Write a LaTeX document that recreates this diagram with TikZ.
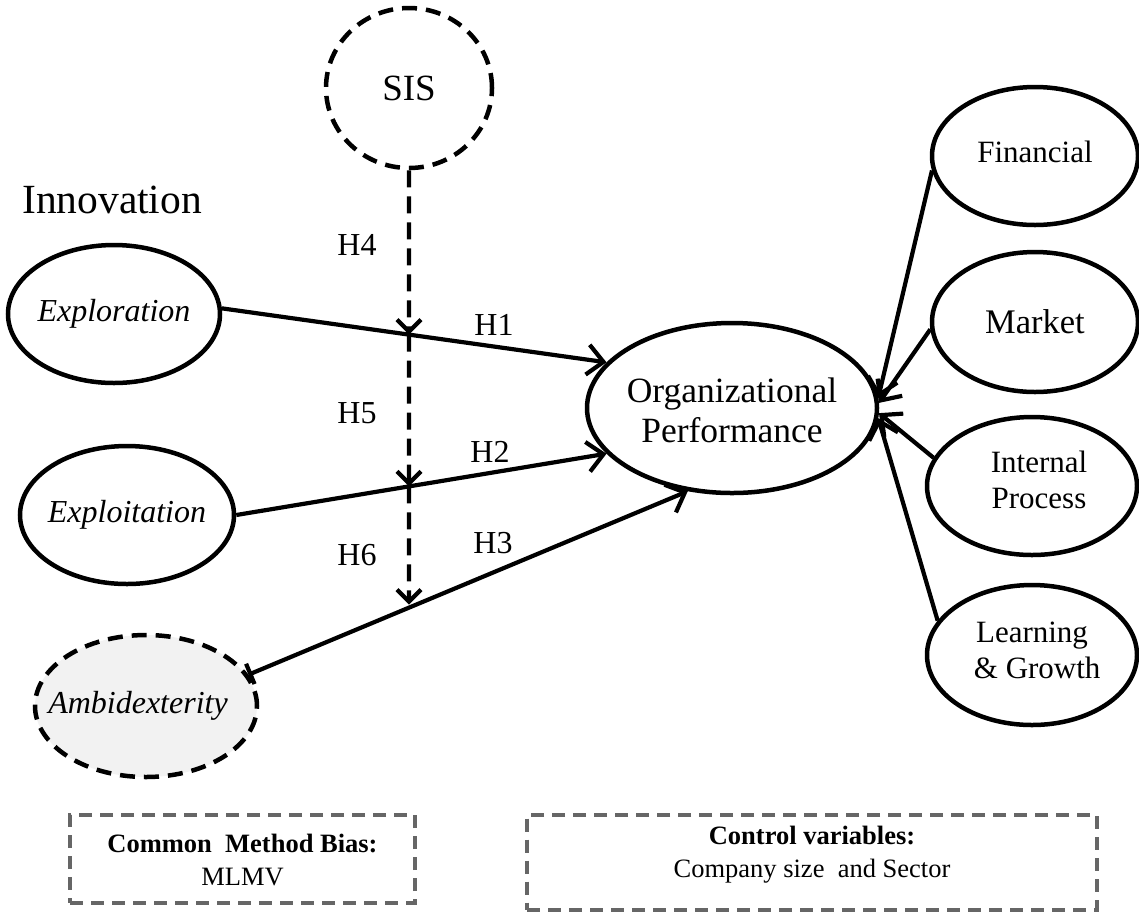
\documentclass[tikz,border=0pt]{standalone}
\usepackage{fontspec}
\setmainfont{Liberation Serif}
\usetikzlibrary{arrows.meta,shapes.geometric,intersections}
\tikzset{
  ell/.style={draw=black, line width=4.5pt, ellipse, inner sep=0pt, minimum width=212pt, minimum height=138pt},
  dashell/.style={ell, dash pattern=on 15pt off 9pt},
  txt/.style={inner sep=0pt, align=center},
  lbl/.style={inner sep=0pt, font=\fontsize{32}{36}\selectfont},
  conn/.style={line width=4.2pt, -{Straight Barb[length=16pt,width=30pt,line width=4.2pt]}},
  mod/.style={line width=4.2pt, dash pattern=on 17pt off 9pt, -{Straight Barb[length=12pt,width=24pt,line width=4.2pt]}},
  gbox/.style={draw=black!60, line width=4pt, dash pattern=on 13pt off 8pt, inner sep=0pt},
  gtxt/.style={inner sep=0pt, align=center, font=\fontsize{26.5}{33}\selectfont}
}
\begin{document}
\begin{tikzpicture}[x=1pt,y=-1pt]
\useasboundingbox[fill=white] (0,0) rectangle (1139,914);

% latent nodes
\node[dashell, minimum width=166pt, minimum height=160pt, label={[txt, font=\fontsize{37}{40}\selectfont]center:SIS}] (sis) at (409,88) {};
\node[lbl, anchor=west, font=\fontsize{41.5}{44}\selectfont] (innov) at (22,200) {Innovation};
\node[ell, label={[txt, font=\fontsize{32}{36}\selectfont\itshape]center:Exploration}] (expl) at (114,314) {};
\node[ell, minimum width=214pt, label={[txt, font=\fontsize{32}{36}\selectfont\itshape]center:Exploitation}] (expt) at (127,515) {};
\node[dashell, fill=black!5, minimum width=222pt, minimum height=142pt, label={[txt, font=\fontsize{32}{36}\selectfont\itshape, xshift=-8pt]center:Ambidexterity}] (amb) at (146,706) {};
\node[ell, minimum width=290pt, minimum height=170pt, label={[txt, font=\fontsize{35.5}{40}\selectfont, yshift=-2pt]center:{Organizational\\Performance}}] (op) at (732,408) {};

\node[ell, minimum width=206pt, label={[txt, font=\fontsize{31}{36}\selectfont, yshift=4pt]center:Financial}] (fin) at (1035,156) {};
\node[ell, minimum width=206pt, minimum height=140pt, label={[txt, font=\fontsize{34.5}{38}\selectfont]center:Market}] (mkt) at (1035,322) {};
\node[ell, minimum width=210pt, label={[txt, font=\fontsize{31}{36}\selectfont, xshift=7pt, yshift=6pt]center:{Internal\\Process}}] (ip) at (1032,486) {};
\node[ell, minimum width=210pt, minimum height=140pt, label={[txt, font=\fontsize{31}{36}\selectfont, yshift=5pt]center:{Learning\\\,\,\& Growth}}] (lg) at (1032,655) {};

% structural paths
\draw[conn] (expl.3) -- (op.160);
\draw[conn] (expt.east) -- (op.200);
\draw[line width=4.2pt, {Bar[width=22pt,line width=4.2pt]}-{Straight Barb[length=16pt,width=30pt,line width=4.2pt]}] (amb.17) -- (op.242);

% helper paths for moderation intersections
\path[name path=h1] (expl.3) -- (op.160);
\path[name path=h2] (expt.east) -- (op.200);
\path[name path=h3] (amb.17) -- (op.242);
\path[name path=vv] (sis.south) -- ++(0,700);
\path[name intersections={of=h1 and vv, by=i1}];
\path[name intersections={of=h2 and vv, by=i2}];
\path[name intersections={of=h3 and vv, by=i3}];
\coordinate (i3e) at ([yshift=3pt]i3);

\draw[mod] (sis.south) -- (i1);
\draw[mod] (i1) -- (i2);
\draw[mod] (i2) -- (i3e);

% measurement paths
\draw[conn] (fin.188) -- (op.4);
\draw[conn] (mkt.184) -- (op.2);
\draw[conn] (ip.164) -- (op.-2);
\draw[conn] (lg.160) -- (op.-4);

% hypothesis labels
\node[lbl] (h4) at (357,245) {H4};
\node[lbl] (h5) at (357,413) {H5};
\node[lbl] (h6) at (357,555) {H6};
\node[lbl] (lh1) at (494,325) {H1};
\node[lbl] (lh2) at (490,452) {H2};
\node[lbl] (lh3) at (493,543) {H3};

% bottom boxes
\node[gbox, minimum width=345pt, minimum height=88pt, label={[gtxt, yshift=-1pt]center:{\textbf{Common\ \ Method Bias:}\\MLMV}}] (cmb) at (242.5,859) {};
\node[gbox, minimum width=570pt, minimum height=95pt, label={[gtxt, yshift=7pt]center:{\textbf{Control variables:}\\Company size\ \ and Sector}}] (ctrl) at (812,862) {};
\end{tikzpicture}
\end{document}
